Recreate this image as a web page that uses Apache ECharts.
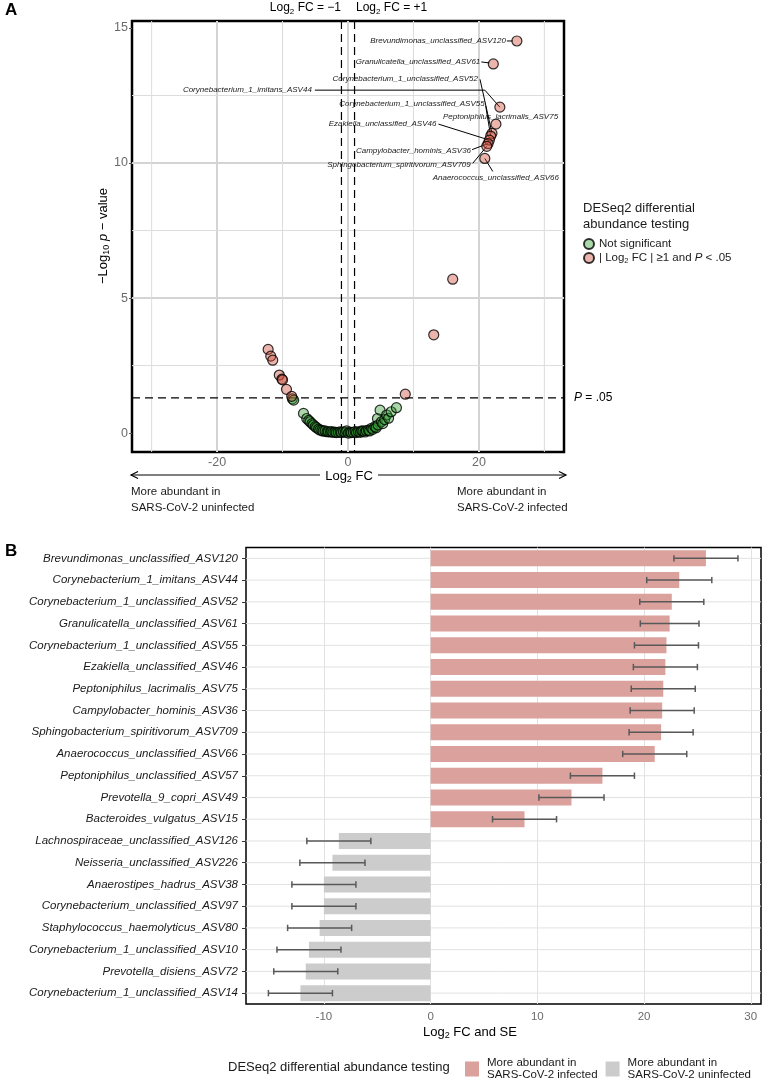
<!DOCTYPE html>
<html><head><meta charset="utf-8">
<script src="https://cdn.jsdelivr.net/npm/echarts@6/dist/echarts.min.js"></script>
<style>html,body{margin:0;padding:0;background:#fff}#c{width:770px;height:1083px}</style>
</head><body><div id="c"></div>
<script>
// ================= DATA =================
// Panel A (volcano) – labelled significant points
const sigLabels = ['Brevundimonas_unclassified_ASV120','Granulicatella_unclassified_ASV61','Corynebacterium_1_imitans_ASV44',
  'Peptoniphilus_lacrimalis_ASV75','Corynebacterium_1_unclassified_ASV52','Corynebacterium_1_unclassified_ASV55',
  'Ezakiella_unclassified_ASV46','Campylobacter_hominis_ASV36','Sphingobacterium_spiritivorum_ASV709','Anaerococcus_unclassified_ASV66'];
const sigLabelX = [25.8, 22.2, 23.2, 22.6, 22.0, 21.8, 21.6, 21.4, 21.2, 20.9];
const sigLabelY = [14.52, 13.67, 12.07, 11.44, 11.1, 11.0, 10.85, 10.72, 10.62, 10.17];
// other significant points
const sigOtherX = [16.0, 13.1, 8.75, -12.2, -11.8, -11.5, -10.5, -10.1, -10.0, -9.4, -8.6];
const sigOtherY = [5.70, 3.64, 1.44, 3.10, 2.85, 2.70, 2.15, 2.00, 1.97, 1.62, 1.36];
// not significant points
const nsX = [-8.5,-8.3,-6.8,-6.3,-6.0,-5.8,-5.5,-5.3,-5.0,-4.8,-4.5,-4.3,-4.0,-3.8,-3.5,-3.2,-3.0,-2.7,-2.5,-2.3,
  -2.0,-1.8,-1.5,-1.2,-1.0,-0.7,-0.4,-0.2,0.05,0.3,0.5,0.8,1.1,1.3,1.6,1.9,2.1,2.3,2.6,2.8,
  3.1,3.3,3.6,3.8,4.1,4.3,4.5,4.6,4.9,5.1,5.3,5.6,5.9,6.2,6.6,7.4];
const nsY = [1.27,1.22,0.73,0.54,0.47,0.42,0.35,0.30,0.24,0.20,0.15,0.11,0.10,0.07,0.08,0.05,0.05,0.04,0.06,0.03,
  0.04,0.02,0.03,0.05,0.02,0.05,0.03,0.08,0.00,0.04,0.02,0.03,0.06,0.02,0.05,0.03,0.08,0.07,0.04,0.09,
  0.11,0.08,0.18,0.14,0.24,0.20,0.54,0.30,0.85,0.42,0.35,0.50,0.67,0.55,0.79,0.94];
const lfcThresholds = [-1, 1];
const pThreshold = 1.30103; // -log10(0.05)
const xTicksA = [-20, 0, 20];
const yTicksA = [0, 5, 10, 15];
const xMinorA = [-30, -10, 10, 30];
const yMinorA = [2.5, 7.5, 12.5];

// Panel B (bar chart)
const taxa = ['Brevundimonas_unclassified_ASV120','Corynebacterium_1_imitans_ASV44','Corynebacterium_1_unclassified_ASV52',
  'Granulicatella_unclassified_ASV61','Corynebacterium_1_unclassified_ASV55','Ezakiella_unclassified_ASV46',
  'Peptoniphilus_lacrimalis_ASV75','Campylobacter_hominis_ASV36','Sphingobacterium_spiritivorum_ASV709',
  'Anaerococcus_unclassified_ASV66','Peptoniphilus_unclassified_ASV57','Prevotella_9_copri_ASV49',
  'Bacteroides_vulgatus_ASV15','Lachnospiraceae_unclassified_ASV126','Neisseria_unclassified_ASV226',
  'Anaerostipes_hadrus_ASV38','Corynebacterium_unclassified_ASV97','Staphylococcus_haemolyticus_ASV80',
  'Corynebacterium_1_unclassified_ASV10','Prevotella_disiens_ASV72','Corynebacterium_1_unclassified_ASV14'];
const lfc = [25.8, 23.3, 22.6, 22.4, 22.1, 22.0, 21.8, 21.7, 21.6, 21.0, 16.1, 13.2, 8.8,
  -8.6, -9.2, -10.0, -10.0, -10.4, -11.4, -11.7, -12.2];
const se = [3.0, 3.05, 3.0, 2.75, 3.0, 3.0, 3.0, 3.0, 3.0, 3.0, 3.0, 3.05, 3.0,
  3.0, 3.05, 3.0, 3.0, 3.0, 3.0, 3.0, 3.0];
const xTicksB = [-10, 0, 10, 20, 30];
const nameInf = 'More abundant in\nSARS-CoV-2 infected';
const nameUninf = 'More abundant in\nSARS-CoV-2 uninfected';

// ================= STYLE =================
const FONT = '"Liberation Sans", Arial, Helvetica, sans-serif';
// label placement (pixel offsets from the point) for repelled labels
const labelLayoutA = {
  'Brevundimonas_unclassified_ASV120': {tx:-11, ty:0, align:'right', line:[[-10,0],[-4,0]]},
  'Granulicatella_unclassified_ASV61': {tx:-13, ty:-2, align:'right', line:[[-12,-2],[-4,-1]]},
  'Corynebacterium_1_imitans_ASV44': {tx:-188, ty:-17, align:'right', line:[[-185,-17],[-15,-17],[0,0]]},
  'Peptoniphilus_lacrimalis_ASV75': {tx:-53, ty:-7, align:'left', line:null},
  'Corynebacterium_1_unclassified_ASV52': {tx:-14, ty:-55, align:'right', line:[[-12,-54],[0,0]]},
  'Corynebacterium_1_unclassified_ASV55': {tx:-6, ty:-32, align:'right', line:[[-5,-30],[0,0]]},
  'Ezakiella_unclassified_ASV46': {tx:-53, ty:-16, align:'right', line:[[-51,-16],[0,0]]},
  'Campylobacter_hominis_ASV36': {tx:-17, ty:7, align:'right', line:[[-16,6],[0,0]]},
  'Sphingobacterium_spiritivorum_ASV709': {tx:-16, ty:18, align:'right', line:[[-14,17],[0,0]]},
  'Anaerococcus_unclassified_ASV66': {tx:11, ty:19, align:'center', line:[[8,13],[0,0]]}
};

function refLines(gi, values, dim, style, z) {
  return {
    type: 'custom', xAxisIndex: gi, yAxisIndex: gi, silent: true, z: z, clip: false,
    data: values.map(v => dim === 'x' ? [v, 0] : [0, v]),
    renderItem: function (params, api) {
      const cs = params.coordSys;
      if (dim === 'x') {
        const x = api.coord([api.value(0), api.value(1)])[0];
        return {type: 'line', shape: {x1: x, y1: cs.y, x2: x, y2: cs.y + cs.height}, style: style};
      }
      const y = api.coord([api.value(0), api.value(1)])[1];
      return {type: 'line', shape: {x1: cs.x, y1: y, x2: cs.x + cs.width, y2: y}, style: style};
    }
  };
}

const rich = {
  n: {fontSize: 12, lineHeight: 15, fontFamily: FONT, color: '#1a1a1a'},
  n13: {fontSize: 13, lineHeight: 16, fontFamily: FONT, color: '#1a1a1a'},
  s: {fontSize: 8, lineHeight: 9, verticalAlign: 'bottom', fontFamily: FONT, color: '#1a1a1a'},
  s9: {fontSize: 9, lineHeight: 9, verticalAlign: 'bottom', fontFamily: FONT, color: '#1a1a1a'},
  i: {fontSize: 12, lineHeight: 15, fontStyle: 'italic', fontFamily: FONT, color: '#1a1a1a'},
  i13: {fontSize: 13, lineHeight: 16, fontStyle: 'italic', fontFamily: FONT, color: '#1a1a1a'}
};

const chart = echarts.init(document.getElementById('c'), null, {renderer: 'canvas'});

const option = {
  animation: false,
  backgroundColor: '#fff',
  textStyle: {fontFamily: FONT},
  grid: [
    {left: 132, top: 21, width: 432, height: 431, show: true, borderColor: '#000', borderWidth: 2.5, backgroundColor: 'transparent', containLabel: false},
    {left: 246, top: 547.5, width: 515, height: 456.5, show: true, borderColor: '#000', borderWidth: 1.5, backgroundColor: 'transparent', containLabel: false}
  ],
  xAxis: [
    {type: 'value', gridIndex: 0, min: -33, max: 33, splitNumber: 3,
     axisLine: {show: false, onZero: false}, axisTick: {show: false},
     axisLabel: {color: '#6b6b6b', fontSize: 12.5, margin: 4, customValues: xTicksA},
     splitLine: {show: true, showMinLine: false, showMaxLine: false, lineStyle: {color: '#d4d4d4', width: 2}}},
    {type: 'value', gridIndex: 1, min: -17.3, max: 30.96, splitNumber: 5,
     axisLine: {show: false, onZero: false}, axisTick: {show: false},
     axisLabel: {color: '#6b6b6b', fontSize: 11.5, margin: 7, customValues: xTicksB},
     splitLine: {show: true, showMinLine: false, showMaxLine: false, lineStyle: {color: '#e2e2e2', width: 1}}}
  ],
  yAxis: [
    {type: 'value', gridIndex: 0, min: -0.7, max: 15.26, splitNumber: 3,
     axisLine: {show: false, onZero: false},
     axisTick: {show: true, length: 3, customValues: yTicksA, lineStyle: {color: '#555'}},
     axisLabel: {color: '#6b6b6b', fontSize: 12.5, margin: 4, customValues: yTicksA},
     splitLine: {show: true, showMinLine: false, showMaxLine: false, lineStyle: {color: '#d4d4d4', width: 2}}},
    {type: 'category', gridIndex: 1, data: taxa, inverse: true,
     axisLine: {show: false, onZero: false},
     axisTick: {show: true, alignWithLabel: true, length: 4, lineStyle: {color: '#333'}},
     axisLabel: {fontStyle: 'italic', fontSize: 11.5, color: '#1a1a1a', margin: 8},
     splitLine: {show: false}}
  ],
  legend: [
    {data: ['Not significant', 'sig'], orient: 'vertical', left: 583, top: 238, padding: 0,
     itemWidth: 10, itemHeight: 10, itemGap: 2, icon: 'circle', selectedMode: false,
     formatter: function (name) {
       return name === 'sig' ? '{n|| Log}{s|2}{n| FC | ≥1 and }{i|P}{n| < .05}' : '{n|Not significant}';
     },
     textStyle: {fontSize: 11.5, color: '#1a1a1a', rich: {
       n: {fontSize: 11.5, lineHeight: 14, fontFamily: FONT, color: '#1a1a1a'},
       s: {fontSize: 7.5, lineHeight: 8, verticalAlign: 'bottom', fontFamily: FONT, color: '#1a1a1a'},
       i: {fontSize: 11.5, lineHeight: 14, fontStyle: 'italic', fontFamily: FONT, color: '#1a1a1a'}}}},
    {data: [nameInf, nameUninf], orient: 'horizontal', left: 465, top: 1057, padding: 0,
     itemWidth: 14, itemHeight: 15, itemGap: 8, icon: 'rect', selectedMode: false,
     textStyle: {fontSize: 11.5, lineHeight: 12, color: '#1a1a1a', padding: [0, 0, 0, 3]}}
  ],
  series: [
    // Panel A grid decorations
    refLines(0, xMinorA, 'x', {stroke: '#dcdcdc', lineWidth: 1}, 0),
    refLines(0, yMinorA, 'y', {stroke: '#dcdcdc', lineWidth: 1}, 0),
    refLines(0, lfcThresholds, 'x', {stroke: '#000', lineWidth: 1.2, lineDash: [8, 5]}, 1),
    refLines(0, [pThreshold], 'y', {stroke: '#000', lineWidth: 1.2, lineDash: [8, 5]}, 1),
    // labels with leader lines
    {type: 'custom', xAxisIndex: 0, yAxisIndex: 0, silent: true, z: 2, clip: false,
     data: sigLabelX.map((x, i) => [x, sigLabelY[i]]),
     renderItem: function (params, api) {
       const name = sigLabels[params.dataIndex];
       const L = labelLayoutA[name];
       const p = api.coord([api.value(0), api.value(1)]);
       const children = [];
       if (L.line) children.push({type: 'polyline', shape: {points: L.line.map(o => [p[0] + o[0], p[1] + o[1]])},
         style: {stroke: '#000', lineWidth: 1, fill: null}});
       children.push({type: 'text', x: p[0] + L.tx, y: p[1] + L.ty,
         style: {text: name, align: L.align, verticalAlign: 'middle', font: 'italic 8px ' + FONT, fill: '#1a1a1a'}});
       return {type: 'group', children: children};
     }},
    {type: 'scatter', name: 'Not significant', xAxisIndex: 0, yAxisIndex: 0, z: 4,
     data: nsX.map((x, i) => [x, nsY[i]]), symbolSize: 10,
     itemStyle: {color: 'rgba(45,155,45,0.5)', borderColor: '#000', borderWidth: 1.2}},
    {type: 'scatter', name: 'sig', xAxisIndex: 0, yAxisIndex: 0, z: 5,
     data: sigLabelX.map((x, i) => [x, sigLabelY[i]]).concat(sigOtherX.map((x, i) => [x, sigOtherY[i]])), symbolSize: 10,
     itemStyle: {color: 'rgba(205,70,50,0.5)', borderColor: '#000', borderWidth: 1.2}},
    // Panel B
    {type: 'custom', xAxisIndex: 1, yAxisIndex: 1, silent: true, z: 0, clip: false,
     data: taxa.map((t, i) => [0, i]),
     renderItem: function (params, api) {
       const cs = params.coordSys;
       const y = api.coord([0, api.value(1)])[1];
       return {type: 'line', shape: {x1: cs.x, y1: y, x2: cs.x + cs.width, y2: y}, style: {stroke: '#e2e2e2', lineWidth: 1}};
     }},
    {type: 'bar', name: nameInf, xAxisIndex: 1, yAxisIndex: 1, z: 2, barWidth: 16, barGap: '-100%',
     data: lfc.map(v => v > 0 ? v : '-'), itemStyle: {color: '#dba19d'}},
    {type: 'bar', name: nameUninf, xAxisIndex: 1, yAxisIndex: 1, z: 2, barWidth: 16, barGap: '-100%',
     data: lfc.map(v => v < 0 ? v : '-'), itemStyle: {color: '#cccccc'}},
    {type: 'custom', xAxisIndex: 1, yAxisIndex: 1, silent: true, z: 3,
     encode: {x: [0, 1], y: 2},
     data: lfc.map((v, i) => [v - se[i], v + se[i], i]),
     renderItem: function (params, api) {
       const a = api.coord([api.value(0), api.value(2)]);
       const b = api.coord([api.value(1), api.value(2)]);
       const st = {stroke: '#595959', lineWidth: 1.5};
       return {type: 'group', children: [
         {type: 'line', shape: {x1: a[0], y1: a[1], x2: b[0], y2: b[1]}, style: st},
         {type: 'line', shape: {x1: a[0], y1: a[1] - 3.2, x2: a[0], y2: a[1] + 3.2}, style: st},
         {type: 'line', shape: {x1: b[0], y1: b[1] - 3.2, x2: b[0], y2: b[1] + 3.2}, style: st}
       ]};
     }}
  ],
  graphic: [
    {type: 'text', left: 5, top: 2, style: {text: 'A', font: 'bold 17px ' + FONT, fill: '#000'}},
    {type: 'text', left: 5, top: 543, style: {text: 'B', font: 'bold 17px ' + FONT, fill: '#000'}},
    {type: 'text', x: 341, y: 8, style: {text: '{n|Log}{s|2}{n| FC = −1}', rich: rich, align: 'right', verticalAlign: 'middle'}},
    {type: 'text', x: 356, y: 8, style: {text: '{n|Log}{s|2}{n| FC = +1}', rich: rich, align: 'left', verticalAlign: 'middle'}},
    {type: 'text', x: 103, y: 236, rotation: Math.PI / 2,
     style: {text: '{n13|−Log}{s9|10}{i13| p}{n13| − value}', rich: rich, align: 'center', verticalAlign: 'middle'}},
    {type: 'text', x: 574, y: 398, style: {text: '{i|P}{n| = .05}', rich: rich, align: 'left', verticalAlign: 'middle'}},
    // x axis title with double arrow
    {type: 'line', shape: {x1: 131, y1: 475, x2: 320, y2: 475}, style: {stroke: '#000', lineWidth: 1}},
    {type: 'line', shape: {x1: 378, y1: 475, x2: 566, y2: 475}, style: {stroke: '#000', lineWidth: 1}},
    {type: 'polyline', shape: {points: [[138, 471.5], [131, 475], [138, 478.5]]}, style: {stroke: '#000', lineWidth: 1.2, fill: null}},
    {type: 'polyline', shape: {points: [[559, 471.5], [566, 475], [559, 478.5]]}, style: {stroke: '#000', lineWidth: 1.2, fill: null}},
    {type: 'text', x: 349, y: 476, style: {text: '{n13|Log}{s9|2}{n13| FC}', rich: rich, align: 'center', verticalAlign: 'middle'}},
    {type: 'text', x: 131, y: 484, style: {text: 'More abundant in\nSARS-CoV-2 uninfected', font: '11.5px ' + FONT, lineHeight: 16, fill: '#1a1a1a', align: 'left', verticalAlign: 'top'}},
    {type: 'text', x: 457, y: 484, style: {text: 'More abundant in\nSARS-CoV-2 infected', font: '11.5px ' + FONT, lineHeight: 16, fill: '#1a1a1a', align: 'left', verticalAlign: 'top'}},
    // legend title A
    {type: 'text', x: 583, y: 201, style: {text: 'DESeq2 differential\nabundance testing', font: '13px ' + FONT, lineHeight: 15.5, fill: '#1a1a1a', align: 'left', verticalAlign: 'top'}},
    // Panel B titles
    {type: 'text', x: 470, y: 1032, style: {text: '{n13|Log}{s9|2}{n13| FC and SE}', rich: rich, align: 'center', verticalAlign: 'middle'}},
    {type: 'text', x: 228, y: 1067, style: {text: 'DESeq2 differential abundance testing', font: '13px ' + FONT, fill: '#1a1a1a', align: 'left', verticalAlign: 'middle'}}
  ]
};
chart.setOption(option);
</script>
</body></html>
